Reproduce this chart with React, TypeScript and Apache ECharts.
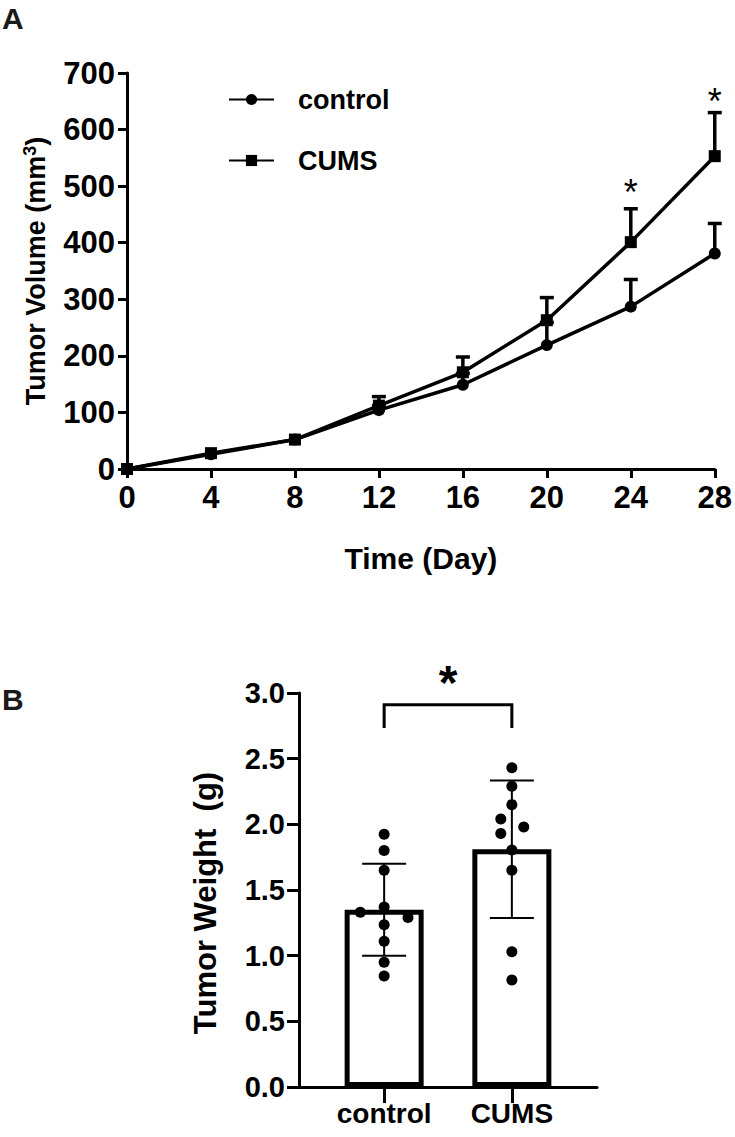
import React, { useEffect, useRef } from "react";
import * as echarts from "echarts";

// ---------- Panel A data ----------
const days = [0, 4, 8, 12, 16, 20, 24, 28];
const dayTicks = [0, 4, 8, 12, 16, 20, 24, 28];
const controlVolume = [0, 26, 52, 104, 149, 219, 287, 381];
const controlVolumeErr = [0, 0, 0, 8, 20, 40, 48, 53];
const cumsVolume = [0, 28, 52, 112, 171, 263, 401, 553];
const cumsVolumeErr = [0, 0, 0, 16, 27, 40, 59, 77];
const sigDays = [24, 28];
const sigHeights = [488, 650];

// ---------- Panel B data ----------
const groups = ["control", "CUMS"];
const groupX = [2, 5];
const weightMean = [1.35, 1.81];
const weightSD = [0.35, 0.524];
const controlWeights = [1.925, 1.8, 1.65, 1.33, 1.37, 1.29, 1.235, 1.11, 0.95, 0.845];
const controlJitter = [0, 0, 0, -0.56, 0, 0.56, 0, 0, 0, 0];
const cumsWeights = [2.43, 2.29, 2.15, 2.04, 1.98, 1.93, 1.805, 1.65, 1.03, 0.815];
const cumsJitter = [0, 0, 0, -0.26, 0.28, -0.26, 0, 0, 0, 0];
const bracketY = [2.91, 2.734];
const starB = [3.5, 3.08];

const FONT = "Liberation Sans, Arial, Helvetica, sans-serif";

export default function App() {
  const ref = useRef<HTMLDivElement>(null);

  useEffect(() => {
    if (!ref.current) return;
    const chart = echarts.init(ref.current, undefined, { renderer: "svg" });

    const errRender = (capHalf: number, lw: number, both: boolean) =>
      (params: any, api: any) => {
        const x = api.value(0);
        const y = api.value(1);
        const e = api.value(2);
        if (!e) return null;
        const top = api.coord([x, y + e]);
        const bot = api.coord([x, both ? y - e : y]);
        const children: any[] = [
          { type: "line", shape: { x1: top[0], y1: top[1], x2: bot[0], y2: bot[1] }, style: { stroke: "#000", lineWidth: lw } },
          { type: "line", shape: { x1: top[0] - capHalf, y1: top[1], x2: top[0] + capHalf, y2: top[1] }, style: { stroke: "#000", lineWidth: lw } },
        ];
        if (both) {
          children.push({ type: "line", shape: { x1: bot[0] - capHalf, y1: bot[1], x2: bot[0] + capHalf, y2: bot[1] }, style: { stroke: "#000", lineWidth: lw } });
        }
        return { type: "group", children };
      };

    const axisCommon = {
      axisLine: { show: true, onZero: false, lineStyle: { color: "#000", width: 3 } },
      axisTick: { show: true, inside: false, length: 9, lineStyle: { color: "#000", width: 3 } },
      splitLine: { show: false },
    };

    const option: any = {
      animation: false,
      backgroundColor: "#fff",
      textStyle: { fontFamily: FONT },
      graphic: [
        { type: "text", left: 2, top: 3, style: { text: "A", font: `bold 30px ${FONT}`, fill: "#1a1a1a" } },
        { type: "text", left: 2, top: 684, style: { text: "B", font: `bold 30px ${FONT}`, fill: "#1a1a1a" } },
      ],
      legend: {
        data: ["control", "CUMS"],
        orient: "vertical",
        left: 228,
        top: 86,
        padding: 0,
        itemWidth: 45,
        itemHeight: 14,
        itemGap: 34,
        textStyle: { fontSize: 27, fontWeight: "bold", color: "#000", fontFamily: FONT, padding: [0, 0, 0, 19] },
      },
      grid: [
        { left: 127, top: 73, width: 592, height: 396 },
        { left: 299, top: 693, width: 298, height: 394 },
      ],
      xAxis: [
        {
          type: "value", gridIndex: 0, min: 0, max: 28, interval: 4,
          ...axisCommon,
          axisLabel: { fontSize: 31, fontWeight: "bold", color: "#000", margin: 13, fontFamily: FONT,
            customValues: dayTicks },
          name: "Time (Day)", nameLocation: "middle", nameGap: 74,
          nameTextStyle: { fontSize: 30, fontWeight: "bold", color: "#000", fontFamily: FONT },
        },
        {
          type: "value", gridIndex: 1, min: 0, max: 7,
          axisLine: { show: true, onZero: false, lineStyle: { color: "#000", width: 3 } },
          axisTick: { show: true, length: 16, customValues: groupX, lineStyle: { color: "#000", width: 3 } },
          axisLabel: { show: true, customValues: groupX, fontSize: 28, fontWeight: "bold", color: "#000", margin: 12, fontFamily: FONT,
            formatter: (v: number) => groups[groupX.indexOf(v)] ?? "" },
          splitLine: { show: false },
        },
      ],
      yAxis: [
        {
          type: "value", gridIndex: 0, min: 0, max: 700, interval: 100,
          ...axisCommon,
          axisLabel: { fontSize: 31, fontWeight: "bold", color: "#000", margin: 12, fontFamily: FONT },
          name: "Tumor Volume (mm{s|3})", nameLocation: "middle", nameGap: 76, nameRotate: 90,
          nameTextStyle: {
            fontSize: 27, fontWeight: "bold", color: "#000", fontFamily: FONT,
            rich: { s: { fontSize: 18, fontWeight: "bold", color: "#000", fontFamily: FONT, padding: [0, 0, 12, 0] } },
          },
        },
        {
          type: "value", gridIndex: 1, min: 0, max: 3, interval: 0.5,
          ...axisCommon,
          axisTick: { show: true, length: 12, lineStyle: { color: "#000", width: 3 } },
          axisLabel: { fontSize: 29, fontWeight: "bold", color: "#000", margin: 14, fontFamily: FONT,
            formatter: (v: number) => v.toFixed(1) },
          name: "Tumor Weight  (g)", nameLocation: "middle", nameGap: 78, nameRotate: 90,
          nameTextStyle: { fontSize: 31, fontWeight: "bold", color: "#000", fontFamily: FONT, padding: [0, 26, 0, 0] },
        },
      ],
      series: [
        {
          name: "control", type: "line", xAxisIndex: 0, yAxisIndex: 0,
          data: days.map((d, i) => [d, controlVolume[i]]),
          symbol: "circle", symbolSize: 12,
          lineStyle: { color: "#000", width: 3.5 }, itemStyle: { color: "#000" }, z: 3,
        },
        {
          name: "CUMS", type: "line", xAxisIndex: 0, yAxisIndex: 0,
          data: days.map((d, i) => [d, cumsVolume[i]]),
          symbol: "rect", symbolSize: 12,
          lineStyle: { color: "#000", width: 3.5 }, itemStyle: { color: "#000" }, z: 3,
        },
        {
          type: "custom", xAxisIndex: 0, yAxisIndex: 0, z: 2,
          renderItem: errRender(7, 3.5, false),
          data: days.map((d, i) => [d, controlVolume[i], controlVolumeErr[i]]),
        },
        {
          type: "custom", xAxisIndex: 0, yAxisIndex: 0, z: 2,
          renderItem: errRender(7, 3.5, false),
          data: days.map((d, i) => [d, cumsVolume[i], cumsVolumeErr[i]]),
        },
        {
          type: "custom", xAxisIndex: 0, yAxisIndex: 0, z: 4, clip: false,
          renderItem: (params: any, api: any) => {
            const p = api.coord([api.value(0), api.value(1)]);
            return { type: "text", x: p[0], y: p[1], style: { text: "*", font: `36px ${FONT}`, fill: "#000", align: "center", verticalAlign: "middle" } };
          },
          data: sigDays.map((d, i) => [d, sigHeights[i]]),
        },
        // Panel B
        {
          type: "bar", xAxisIndex: 1, yAxisIndex: 1, barWidth: 79,
          data: groupX.map((x, i) => [x, weightMean[i]]),
          itemStyle: { color: "#fff", borderColor: "#000", borderWidth: 5 }, z: 2,
        },
        {
          type: "custom", xAxisIndex: 1, yAxisIndex: 1, z: 3,
          renderItem: errRender(22, 2, true),
          data: groupX.map((x, i) => [x, weightMean[i], weightSD[i]]),
        },
        {
          type: "scatter", xAxisIndex: 1, yAxisIndex: 1, z: 4,
          symbol: "circle", symbolSize: 11, itemStyle: { color: "#000", opacity: 1 },
          data: [
            ...controlWeights.map((w, i) => [groupX[0] + controlJitter[i], w]),
            ...cumsWeights.map((w, i) => [groupX[1] + cumsJitter[i], w]),
          ],
        },
        {
          type: "custom", xAxisIndex: 1, yAxisIndex: 1, z: 4, clip: false,
          renderItem: (params: any, api: any) => {
            const l = api.coord([groupX[0], bracketY[0]]);
            const r = api.coord([groupX[1], bracketY[0]]);
            const lb = api.coord([groupX[0], bracketY[1]]);
            const s = api.coord([starB[0], starB[1]]);
            return {
              type: "group",
              children: [
                { type: "polyline", shape: { points: [[lb[0], lb[1]], [l[0], l[1]], [r[0], r[1]], [r[0], lb[1]]] }, style: { stroke: "#000", lineWidth: 3, fill: "none" } },
                { type: "text", x: s[0], y: s[1], style: { text: "*", font: `bold 48px ${FONT}`, fill: "#000", align: "center", verticalAlign: "middle" } },
              ],
            };
          },
          data: [[0, 0]],
        },
      ],
    };

    chart.setOption(option);
    return () => chart.dispose();
  }, []);

  return (
    <div
      ref={ref}
      style={{ position: "absolute", left: 0, top: 0, width: 735, height: 1137, background: "#fff" }}
    />
  );
}
